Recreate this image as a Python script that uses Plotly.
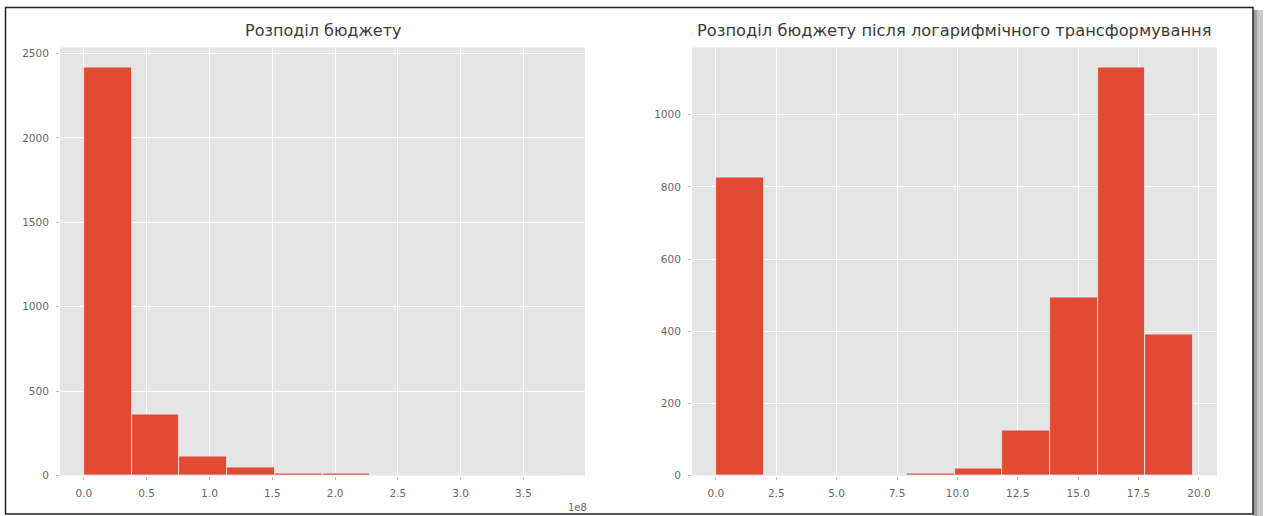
import plotly.graph_objects as go

W, H = 1264, 516

# ---- data ----
budget_min = 0.0
budget_max = 3.8e8
budget_counts = [2415, 360, 114, 49, 14, 10, 2, 1, 0, 1]

log_min = 0.0
log_max = 19.76
log_counts = [825, 0, 0, 0, 5, 20, 124, 493, 1130, 391]

left_title = "Розподіл бюджету"
right_title = "Розподіл бюджету після логарифмічного трансформування"

left_xticks = [0.0, 0.5e8, 1.0e8, 1.5e8, 2.0e8, 2.5e8, 3.0e8, 3.5e8]
left_xtext = ["0.0", "0.5", "1.0", "1.5", "2.0", "2.5", "3.0", "3.5"]
left_yticks = [0, 500, 1000, 1500, 2000, 2500]
right_xticks = [0.0, 2.5, 5.0, 7.5, 10.0, 12.5, 15.0, 17.5, 20.0]
right_xtext = ["0.0", "2.5", "5.0", "7.5", "10.0", "12.5", "15.0", "17.5", "20.0"]
right_yticks = [0, 200, 400, 600, 800, 1000]

BAR = "#E24A33"
BG = "#E5E5E5"
TICK = "#666666"


def bins(lo, hi, counts):
    n = len(counts)
    w = (hi - lo) / n
    centers = [lo + w * (i + 0.5) for i in range(n)]
    return centers, w


fig = go.Figure()

lc, lw = bins(budget_min, budget_max, budget_counts)
fig.add_trace(go.Bar(x=lc, y=budget_counts, width=[lw] * len(lc),
                     marker=dict(color=BAR, line=dict(color="#EEEEEE", width=0.8)),
                     xaxis="x", yaxis="y", showlegend=False))
rc, rw = bins(log_min, log_max, log_counts)
fig.add_trace(go.Bar(x=rc, y=log_counts, width=[rw] * len(rc),
                     marker=dict(color=BAR, line=dict(color="#EEEEEE", width=0.8)),
                     xaxis="x2", yaxis="y2", showlegend=False))

px = lambda v: v / W
py = lambda v: 1 - v / H

ydom = [py(475.5), py(47.5)]

lpad = (budget_max - budget_min) * 0.05
rpad = (log_max - log_min) * 0.05
lymax = max(budget_counts) * 1.05
rymax = max(log_counts) * 1.05

axis_common = dict(showgrid=True, gridcolor="white", gridwidth=1, zeroline=False,
                   showline=False, ticks="outside", ticklen=3, tickcolor="#BBBBBB",
                   tickfont=dict(family="DejaVu Sans", size=10.5, color=TICK),
                   automargin=False)

fig.update_layout(
    width=W, height=H,
    margin=dict(l=0, r=0, t=0, b=0),
    paper_bgcolor="white", plot_bgcolor=BG,
    bargap=0,
    xaxis=dict(domain=[px(60), px(585)], range=[budget_min - lpad, budget_max + lpad],
               tickvals=left_xticks, ticktext=left_xtext, anchor="y",
               ticklabelstandoff=5, **axis_common),
    yaxis=dict(domain=ydom, range=[0, lymax], tickvals=left_yticks, anchor="x",
               ticklabelstandoff=5, **axis_common),
    xaxis2=dict(domain=[px(692), px(1217)], range=[log_min - rpad, log_max + rpad],
                tickvals=right_xticks, ticktext=right_xtext, anchor="y2",
                ticklabelstandoff=5, **axis_common),
    yaxis2=dict(domain=ydom, range=[0, rymax], tickvals=right_yticks, anchor="x2",
                ticklabelstandoff=5, **axis_common),
    annotations=[
        dict(text=left_title, x=px(322.5), y=py(31), xref="paper", yref="paper",
             xanchor="center", yanchor="middle", showarrow=False,
             font=dict(family="DejaVu Sans", size=16, color="#3a3a3a")),
        dict(text=right_title, x=px(954.5), y=py(31), xref="paper", yref="paper",
             xanchor="center", yanchor="middle", showarrow=False,
             font=dict(family="DejaVu Sans", size=16.3, color="#3a3a3a")),
        dict(text="1e8", x=px(577), y=py(507), xref="paper", yref="paper",
             xanchor="center", yanchor="middle", showarrow=False,
             font=dict(family="DejaVu Sans", size=10, color=TICK)),
    ],
    shapes=[
        dict(type="rect", xref="paper", yref="paper", x0=px(1253), x1=px(1257),
             y0=py(516), y1=py(10), fillcolor="#A0A0A0", line=dict(width=0), layer="above"),
        dict(type="rect", xref="paper", yref="paper", x0=px(1257), x1=px(1263),
             y0=py(516), y1=py(10), fillcolor="#C8C8C8", line=dict(width=0), layer="above"),
        dict(type="rect", xref="paper", yref="paper", x0=px(5.5), x1=px(1253),
             y0=py(514), y1=py(7.5), line=dict(color="#222222", width=1.5),
             fillcolor="rgba(0,0,0,0)", layer="above"),
    ],
)

fig.write_html("out.html", config={"displayModeBar": False},
               post_script="document.body.style.margin='0';document.body.style.padding='0';")
